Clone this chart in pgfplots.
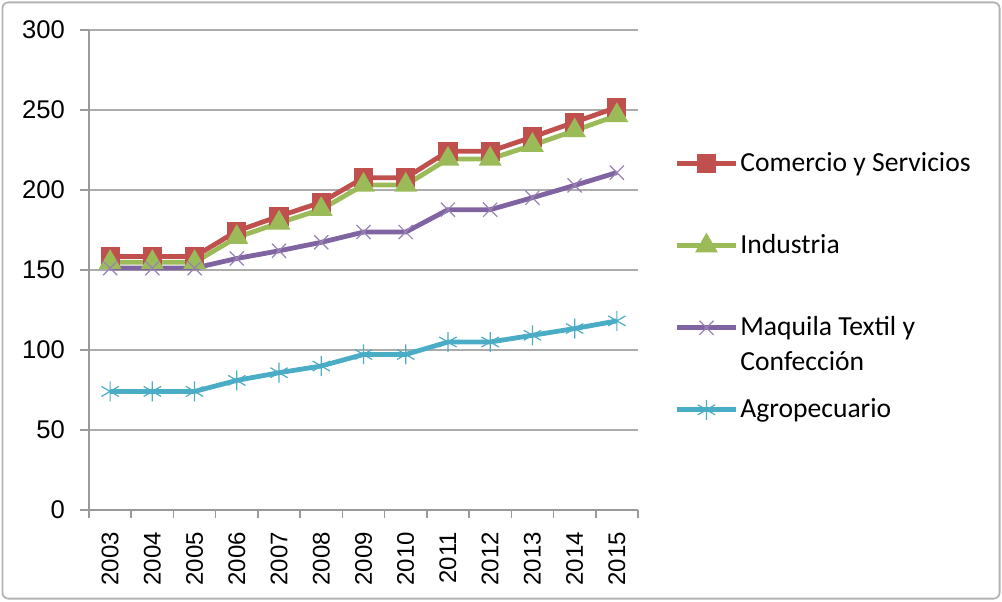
\documentclass[border=0pt]{standalone}
\usepackage{pgfplots}
\pgfplotsset{compat=1.18}
\usepackage{fontspec}
\setmainfont{Carlito}
\newfontfamily\tickfont{Liberation Sans}
\definecolor{cRed}{HTML}{C0504D}
\definecolor{cGreen}{HTML}{9BBB59}
\definecolor{cPurple}{HTML}{8064A2}
\definecolor{cCyan}{HTML}{4BACC6}
\newcommand\legtxt[1]{\raisebox{0pt}[10pt][3pt]{\begin{tabular}[t]{@{}l@{}}#1\end{tabular}}}
\begin{document}
\begin{tikzpicture}
\useasboundingbox (0,0) rectangle (501pt,300.5pt);
\draw[gray!60, line width=0.9pt, rounded corners=3pt] (1.2pt,1.2pt) rectangle (499.8pt,299.3pt);
\begin{axis}[
  at={(44.5pt,45.5pt)}, anchor=south west,
  scale only axis, width=274.5pt, height=240pt,
  xmin=-0.5, xmax=12.5, ymin=0, ymax=300,
  axis x line*=bottom, axis y line*=left,
  axis line style={-, gray!80, line width=0.8pt},
  ytick={0,50,...,300},
  ymajorgrids, grid style={gray!65, line width=0.8pt},
  tick align=outside,
  y tick style={gray!80, line width=0.8pt},
  major tick length=4.5pt,
  xtick={0,...,12},
  xticklabels={2003,2004,2005,2006,2007,2008,2009,2010,2011,2012,2013,2014,2015},
  x tick style={draw=none},
  extra x ticks={-0.5,0.5,...,12.5},
  extra x tick labels={},
  extra x tick style={x tick style={draw=gray!80, line width=0.8pt}, major tick length=4pt, grid=none},
  xticklabel style={rotate=90, anchor=east, font=\tickfont\fontsize{12}{14}\selectfont, xshift=-3pt},
  yticklabel style={font=\tickfont\fontsize{12.8}{15}\selectfont, xshift=-4pt},
  /pgf/number format/assume math mode=true,
  legend style={draw=none, fill=none, at={(1.055,0.466)}, anchor=west,
    font=\fontsize{13.8}{16.5}\selectfont, row sep=27.5pt,
    nodes={inner sep=1pt, anchor=base west}},
  legend cell align=left,
  legend image code/.code={\draw[mark repeat=2,mark phase=2, yshift=4pt] plot coordinates {(0pt,0pt)(14.75pt,0pt)(29.5pt,0pt)};},
  every axis plot/.append style={line width=2.4pt},
]
\addplot[cRed, mark=square*, mark size=3.6pt, mark options={solid}] coordinates {
(0,158.4)(1,158.4)(2,158.4)(3,174.3)(4,183.6)(5,192.3)(6,207.6)(7,207.6)(8,224.2)(9,224.2)(10,233.1)(11,242.4)(12,251.7)};
\addlegendentry{\legtxt{Comercio y Servicios}}
\addplot[cGreen, mark=triangle*, mark size=4.2pt, mark options={solid}] coordinates {
(0,154.8)(1,154.8)(2,154.8)(3,170.4)(4,179.4)(5,187.9)(6,203.1)(7,203.1)(8,219.4)(9,219.4)(10,228.0)(11,237.1)(12,246.6)};
\addlegendentry{\legtxt{Industria}}
\addplot[cPurple, mark=x, mark size=5pt, mark options={solid, line width=0.6pt, draw=cPurple!80}] coordinates {
(0,151.2)(1,151.2)(2,151.2)(3,157.2)(4,162.0)(5,167.3)(6,173.7)(7,173.7)(8,187.7)(9,187.7)(10,195.2)(11,202.9)(12,210.9)};
\addlegendentry{\legtxt{Maquila Textil y\\[1pt]Confección}}
\addplot[cCyan, mark=asterisk, mark size=5pt, mark options={solid, line width=0.6pt}] coordinates {
(0,74.1)(1,74.1)(2,74.1)(3,81.0)(4,85.8)(5,90.0)(6,97.2)(7,97.2)(8,105.0)(9,105.0)(10,109.2)(11,113.4)(12,118.2)};
\addlegendentry{\legtxt{Agropecuario}}
\end{axis}
\end{tikzpicture}
\end{document}
